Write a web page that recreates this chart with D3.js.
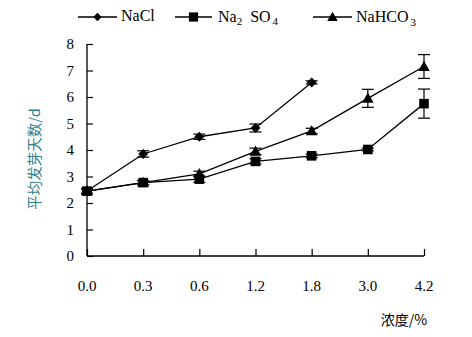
<!DOCTYPE html>
<html><head><meta charset="utf-8">
<script src="https://cdn.jsdelivr.net/npm/d3@7"></script>
<style>body{margin:0;background:#fff;}</style>
</head><body>
<script>
const categories = ["0.0","0.3","0.6","1.2","1.8","3.0","4.2"];
const yTicks = [0,1,2,3,4,5,6,7,8];
const naclValues = [2.45,3.85,4.5,4.83,6.55];
const naclErrors = [0.08,0.12,0.1,0.15,0.06];
const na2so4Values = [2.45,2.77,2.9,3.57,3.78,4.02,5.75];
const na2so4Errors = [0.1,0.08,0.12,0.1,0.07,0.05,0.55];
const nahco3Values = [2.45,2.77,3.1,3.95,4.72,5.95,7.15];
const nahco3Errors = [0.1,0.07,0.1,0.12,0.1,0.34,0.45];

const W=472,H=337;
const svg=d3.select("body").append("svg").attr("width",W).attr("height",H);
const x=d3.scalePoint().domain(categories).range([87,424]);
const y=d3.scaleLinear().domain([0,8]).range([256,44]);

const serif="'Liberation Serif','Times New Roman',serif";
const gy=svg.append("g").attr("transform","translate(87,0)")
  .call(d3.axisRight(y).tickValues(yTicks).tickSize(6).tickFormat(""));
gy.select(".domain").remove();
svg.append("line").attr("x1",87).attr("x2",87).attr("y1",44).attr("y2",256).attr("stroke","#000").attr("stroke-width",1.3);
gy.selectAll("line").attr("stroke","#000").attr("stroke-width",1.2);
const gx=svg.append("g").attr("transform","translate(0,256)")
  .call(d3.axisTop(x).tickSize(7).tickFormat(""));
gx.select(".domain").remove();
svg.append("line").attr("x1",87).attr("x2",424).attr("y1",256).attr("y2",256).attr("stroke","#000").attr("stroke-width",1.3);
gx.selectAll("line").attr("stroke","#000").attr("stroke-width",1.2);

svg.selectAll(".ylab").data(yTicks).enter().append("text")
  .attr("x",74).attr("y",d=>y(d)+5).attr("text-anchor","end")
  .attr("font-family",serif).attr("font-size",15).attr("fill","#000").text(d=>d);
svg.selectAll(".xlab").data(categories).enter().append("text")
  .attr("x",d=>x(d)).attr("y",291).attr("text-anchor","middle")
  .attr("font-family",serif).attr("font-size",15).attr("fill","#000").text(d=>d);

svg.append("text").attr("transform","translate(40,159) rotate(-90)")
  .attr("text-anchor","middle").attr("font-family","'Noto Sans CJK SC',sans-serif")
  .attr("font-size",14.5).attr("fill","#2e7f8c").text("平均发芽天数/d");
svg.append("text").attr("x",404).attr("y",325).attr("text-anchor","middle")
  .attr("font-family","'Noto Sans CJK SC',serif").attr("font-size",14).attr("fill","#000").text("浓度/%");

const line=d3.line().x((d,i)=>x(categories[i])).y(d=>y(d));
function marker(kind,r){
  if(kind==="diamond") return `M0,${-r}L${r},0L0,${r}L${-r},0Z`;
  if(kind==="square") return `M${-r},${-r}H${r}V${r}H${-r}Z`;
  return `M0,${-r*1.05}L${r*1.05},${r*0.8}L${-r*1.05},${r*0.8}Z`;
}
const series=[
  {vals:naclValues,errs:naclErrors,kind:"diamond",r:5},
  {vals:nahco3Values,errs:nahco3Errors,kind:"triangle",r:5.5},
  {vals:na2so4Values,errs:na2so4Errors,kind:"square",r:4.8}
];
series.forEach(s=>{
  svg.append("path").attr("d",line(s.vals)).attr("fill","none").attr("stroke","#000").attr("stroke-width",1.3);
  const g=svg.append("g");
  s.vals.forEach((v,i)=>{
    const cx=x(categories[i]);
    const e=s.errs[i];
    g.append("line").attr("x1",cx).attr("x2",cx).attr("y1",y(v+e)).attr("y2",y(v-e)).attr("stroke","#000").attr("stroke-width",1.2);
    [v+e,v-e].forEach(t=>g.append("line").attr("x1",cx-6).attr("x2",cx+6).attr("y1",y(t)).attr("y2",y(t)).attr("stroke","#000").attr("stroke-width",1.2));
    g.append("path").attr("d",marker(s.kind,s.r)).attr("transform",`translate(${cx},${y(v)})`).attr("fill","#000");
  });
});

const legend=[
  {kind:"diamond",r:4.2,x1:78,x2:117},
  {kind:"square",r:4.6,x1:175,x2:212},
  {kind:"triangle",r:5,x1:313,x2:352}
];
legend.forEach(l=>{
  svg.append("line").attr("x1",l.x1).attr("x2",l.x2).attr("y1",17).attr("y2",17).attr("stroke","#000").attr("stroke-width",1.3);
  svg.append("path").attr("d",marker(l.kind,l.r)).attr("transform",`translate(${(l.x1+l.x2)/2},17)`).attr("fill","#000");
});
svg.append("text").attr("x",121).attr("y",21).attr("font-family",serif).attr("font-size",16).text("NaCl");
const t2=svg.append("text").attr("x",218).attr("y",22).attr("font-family",serif).attr("font-size",16);
t2.append("tspan").text("Na");
t2.append("tspan").attr("font-size",11).attr("dy",3).text("2");
t2.append("tspan").attr("dy",-3).attr("dx",8).text("SO");
t2.append("tspan").attr("font-size",11).attr("dy",3).attr("dx",2).text("4");
const t3=svg.append("text").attr("x",356).attr("y",22).attr("font-family",serif).attr("font-size",16);
t3.append("tspan").text("NaHCO");
t3.append("tspan").attr("font-size",11).attr("dy",4).attr("dx",2).text("3");
</script>
</body></html>
